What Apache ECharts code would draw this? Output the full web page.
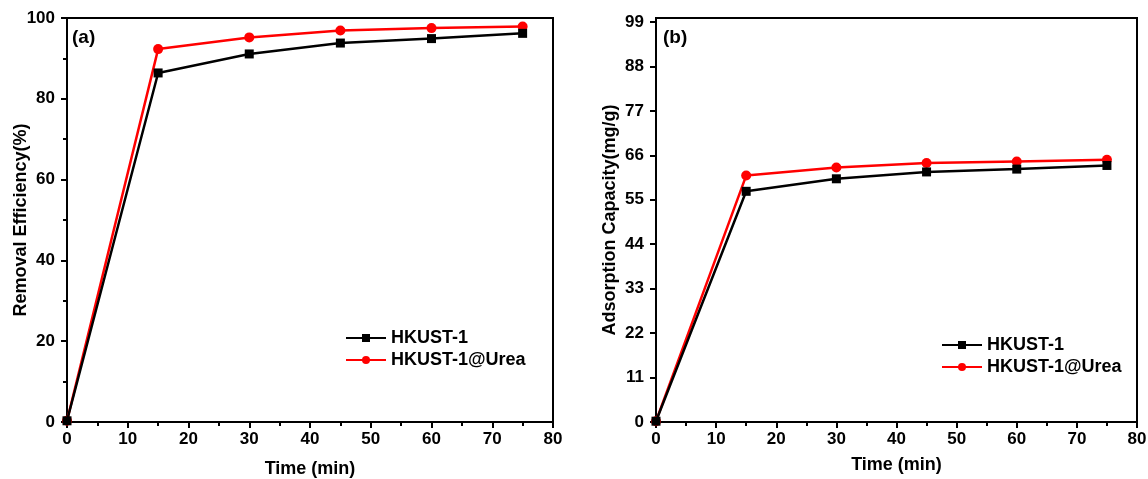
<!DOCTYPE html>
<html>
<head>
<meta charset="utf-8">
<script src="https://cdn.jsdelivr.net/npm/echarts@6/dist/echarts.min.js"></script>
<style>
  html, body { margin: 0; padding: 0; background: #fff; }
  #chart { width: 1148px; height: 479px; }
</style>
</head>
<body>
<div id="chart"></div>
<script>
// time points (min)
const times = [0, 15, 30, 45, 60, 75]
// (a) removal efficiency, %
const effPure = [0.3, 86.4, 91.1, 93.8, 94.9, 96.2]
const effUrea = [0.3, 92.3, 95.2, 96.9, 97.5, 97.9]
// (b) adsorption capacity, mg/g
const capPure = [0.2, 57.1, 60.2, 61.9, 62.6, 63.5]
const capUrea = [0.2, 61.0, 63.0, 64.1, 64.5, 64.9]
// right panel tick labels
const capTicks = [0, 11, 22, 33, 44, 55, 66, 77, 88, 99]

const font = 'Liberation Sans, Arial, sans-serif'
const pair = (xs, ys) => xs.map((x, i) => [x, ys[i]])
const lbl = { fontFamily: font, fontWeight: 'bold', fontSize: 17, color: '#000' }
const ttl = { fontFamily: font, fontWeight: 'bold', fontSize: 18, color: '#000' }
const blk = { color: '#000', width: 2 }

const chart = echarts.init(document.getElementById('chart'))

function xAx (idx, gap) {
  return {
    gridIndex: idx,
    type: 'value',
    min: 0,
    max: 80,
    interval: 10,
    name: 'Time (min)',
    nameLocation: 'middle',
    nameGap: gap,
    nameMoveOverlap: false,
    nameTextStyle: ttl,
    axisLine: { lineStyle: blk },
    axisTick: { length: 6, lineStyle: blk },
    minorTick: { show: true, splitNumber: 2, length: 4, lineStyle: blk },
    axisLabel: { ...lbl, margin: 9 },
    splitLine: { show: false }
  }
}

const lineSeries = (name, data, xi, yi, color, symbol, size) => ({
  name,
  type: 'line',
  xAxisIndex: xi,
  yAxisIndex: yi,
  data,
  symbol,
  symbolSize: size,
  showAllSymbol: true,
  lineStyle: { color, width: 2.5 },
  itemStyle: { color },
  z: name === 'HKUST-1' ? 3 : 2
})

const legendStyle = (left, top) => ({
  left,
  top,
  padding: 0,
  orient: 'vertical',
  itemWidth: 40,
  itemHeight: 10,
  itemGap: 4,
  data: ['HKUST-1', 'HKUST-1@Urea'],
  textStyle: ttl
})

const option = {
  animation: false,
  backgroundColor: '#fff',
  grid: [
    { left: 67, top: 18, width: 486, height: 404, outerBoundsMode: 'none', show: true, borderColor: '#000', borderWidth: 2, backgroundColor: 'transparent' },
    { left: 656, top: 18, width: 481, height: 404, outerBoundsMode: 'none', show: true, borderColor: '#000', borderWidth: 2, backgroundColor: 'transparent' }
  ],
  legend: [legendStyle(345, 329), legendStyle(941, 336)],
  xAxis: [xAx(0, 38), xAx(1, 34)],
  yAxis: [
    {
      gridIndex: 0,
      type: 'value',
      min: 0,
      max: 100,
      interval: 20,
      name: 'Removal Efficiency(%)',
      nameLocation: 'middle',
      nameGap: 37,
      nameMoveOverlap: false,
      nameTextStyle: ttl,
      axisLine: { show: true, lineStyle: blk },
      axisTick: { show: true, length: 6, lineStyle: blk },
      minorTick: { show: true, splitNumber: 2, length: 4, lineStyle: blk },
      axisLabel: { ...lbl, margin: 12 },
      splitLine: { show: false }
    },
    {
      gridIndex: 1,
      type: 'value',
      min: 0,
      max: 100,
      interval: 11,
      name: 'Adsorption Capacity(mg/g)',
      nameLocation: 'middle',
      nameGap: 37,
      nameMoveOverlap: false,
      nameTextStyle: ttl,
      axisLine: { show: true, lineStyle: blk },
      axisTick: { show: true, length: 6, customValues: capTicks, lineStyle: blk },
      axisLabel: { ...lbl, margin: 12, customValues: capTicks },
      splitLine: { show: false }
    }
  ],
  graphic: [
    { type: 'text', left: 72, top: 28, style: { text: '(a)', font: 'bold 19px ' + font, fill: '#000' } },
    { type: 'text', left: 663, top: 28, style: { text: '(b)', font: 'bold 19px ' + font, fill: '#000' } }
  ],
  series: [
    lineSeries('HKUST-1', pair(times, effPure), 0, 0, '#000', 'rect', 9),
    lineSeries('HKUST-1@Urea', pair(times, effUrea), 0, 0, '#ff0000', 'circle', 10),
    lineSeries('HKUST-1', pair(times, capPure), 1, 1, '#000', 'rect', 9),
    lineSeries('HKUST-1@Urea', pair(times, capUrea), 1, 1, '#ff0000', 'circle', 10)
  ]
}

chart.setOption(option)
</script>
</body>
</html>
